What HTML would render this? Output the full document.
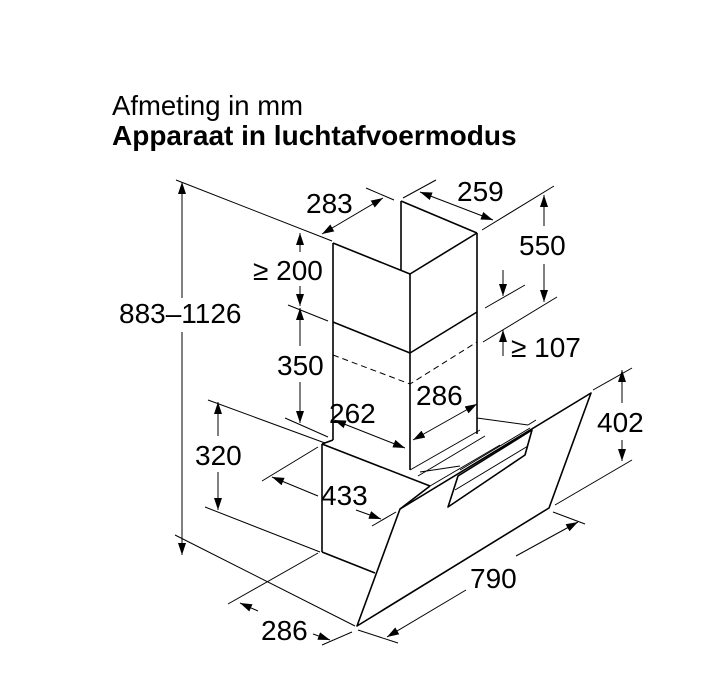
<!DOCTYPE html>
<html><head><meta charset="utf-8"><style>
html,body{margin:0;padding:0;background:#fff;}
svg{display:block;}
text{font-family:"Liberation Sans",sans-serif;fill:#000;}
</style></head><body>
<svg width="722" height="696" viewBox="0 0 722 696" xmlns="http://www.w3.org/2000/svg">
<defs>
<marker id="a" viewBox="0 0 12 8" refX="12" refY="4" markerWidth="12" markerHeight="8" markerUnits="userSpaceOnUse" orient="auto-start-reverse">
<path d="M0,0 L12,4 L0,8 Z" fill="#000"/></marker>
</defs>
<text x="112" y="115" font-size="27.5">Afmeting in mm</text>
<text x="112" y="145" font-size="28" font-weight="bold">Apparaat in luchtafvoermodus</text>

<g stroke="#000" stroke-width="1" fill="none">
<line x1="176" y1="180" x2="332" y2="241"/>
<line x1="366" y1="188" x2="394" y2="200"/>
<line x1="403" y1="198" x2="436" y2="180"/>
<line x1="482" y1="230" x2="554" y2="186"/>
<line x1="485" y1="308" x2="525" y2="285"/>
<line x1="483" y1="342" x2="557" y2="297"/>
<line x1="288" y1="305" x2="328" y2="321"/>
<line x1="285" y1="418" x2="328" y2="437"/>
<line x1="208" y1="400" x2="325" y2="443"/>
<line x1="205" y1="507" x2="320" y2="552"/>
<line x1="262" y1="481" x2="318" y2="447"/>
<line x1="372" y1="526" x2="396" y2="512"/>
<line x1="593" y1="390" x2="632" y2="368"/>
<line x1="555" y1="505" x2="632" y2="460"/>
<line x1="553" y1="512" x2="585" y2="524"/>
<line x1="175" y1="535" x2="355" y2="626"/>
<line x1="358" y1="630" x2="398" y2="643"/>
<line x1="228" y1="604" x2="318" y2="553"/>
<line x1="322" y1="645" x2="352" y2="632"/>
</g>

<g stroke="#000" stroke-width="1" fill="none">
<line x1="182" y1="182" x2="182" y2="298" marker-start="url(#a)"/>
<line x1="182" y1="332" x2="182" y2="555" marker-end="url(#a)"/>
<line x1="322" y1="234" x2="383" y2="198" marker-start="url(#a)" marker-end="url(#a)"/>
<line x1="420" y1="192" x2="493" y2="220" marker-start="url(#a)" marker-end="url(#a)"/>
<line x1="544" y1="195" x2="544" y2="226" marker-start="url(#a)"/>
<line x1="544" y1="264" x2="544" y2="302" marker-end="url(#a)"/>
<line x1="503" y1="270" x2="503" y2="296" marker-end="url(#a)"/>
<line x1="503" y1="356" x2="503" y2="330" marker-end="url(#a)"/>
<line x1="300" y1="233" x2="300" y2="252" marker-start="url(#a)"/>
<line x1="300" y1="286" x2="300" y2="306" marker-end="url(#a)"/>
<line x1="300" y1="308" x2="300" y2="346" marker-start="url(#a)"/>
<line x1="300" y1="382" x2="300" y2="423" marker-end="url(#a)"/>
<line x1="334" y1="420" x2="405" y2="448" marker-start="url(#a)" marker-end="url(#a)"/>
<line x1="413" y1="440" x2="477" y2="404" marker-start="url(#a)" marker-end="url(#a)"/>
<line x1="218" y1="402" x2="218" y2="436" marker-start="url(#a)"/>
<line x1="218" y1="472" x2="218" y2="510" marker-end="url(#a)"/>
<line x1="272" y1="477" x2="318" y2="496" marker-start="url(#a)"/>
<line x1="356" y1="510" x2="381" y2="519" marker-end="url(#a)"/>
<line x1="622" y1="370" x2="622" y2="403" marker-start="url(#a)"/>
<line x1="622" y1="440" x2="622" y2="461" marker-end="url(#a)"/>
<line x1="387" y1="637" x2="466" y2="590" marker-start="url(#a)"/>
<line x1="516" y1="556" x2="578" y2="522" marker-end="url(#a)"/>
<line x1="240" y1="603" x2="258" y2="611" marker-start="url(#a)"/>
<line x1="313" y1="634" x2="330" y2="640" marker-end="url(#a)"/>
</g>

<g stroke="#000" stroke-width="1.6" fill="none" stroke-linejoin="round">
<line x1="333" y1="243" x2="333" y2="440"/>
<line x1="333" y1="243" x2="410" y2="274"/>
<line x1="410" y1="274" x2="477" y2="233"/>
<line x1="401" y1="201" x2="477" y2="233"/>
<line x1="401" y1="201" x2="401" y2="270"/>
<line x1="410" y1="274" x2="410" y2="470"/>
<line x1="477" y1="233" x2="477" y2="434"/>
<line x1="333" y1="322" x2="410" y2="353"/>
<line x1="410" y1="353" x2="477" y2="312"/>
<line x1="322" y1="444" x2="322" y2="552"/>
<line x1="322" y1="552" x2="375" y2="573"/>
<line x1="322" y1="444" x2="430" y2="486"/>
<line x1="322" y1="444" x2="333" y2="440"/>
<polygon points="400,509 591,393 549,508 357,626"/>
<polygon points="448,507 458,476 532,430 525,455"/>
<line x1="430" y1="486" x2="400" y2="509"/>
</g>
<g stroke="#000" stroke-width="1" fill="none">
<path d="M333,355 L410,384 L477,342" stroke-dasharray="6,4"/>
<line x1="410" y1="470" x2="480" y2="430"/>
<line x1="418" y1="476" x2="485" y2="436"/>
<line x1="430" y1="486" x2="500" y2="445"/>
<line x1="477" y1="418" x2="528" y2="425"/>
<line x1="420" y1="472" x2="460" y2="466"/>
<line x1="460" y1="470" x2="530" y2="428"/>
<line x1="455" y1="490" x2="528" y2="446"/>
<line x1="528" y1="425" x2="536" y2="420"/>
</g>

<g font-size="28">
<text x="119" y="323">883–1126</text>
<text x="306" y="213">283</text>
<text x="457" y="201">259</text>
<text x="519" y="255">550</text>
<text x="253" y="280">≥ 200</text>
<text x="511" y="357">≥ 107</text>
<text x="277" y="375">350</text>
<text x="416" y="405">286</text>
<text x="329" y="423">262</text>
<text x="195" y="465">320</text>
<text x="321" y="505">433</text>
<text x="597" y="432">402</text>
<text x="470" y="588">790</text>
<text x="261" y="640">286</text>
</g>
</svg>
</body></html>
